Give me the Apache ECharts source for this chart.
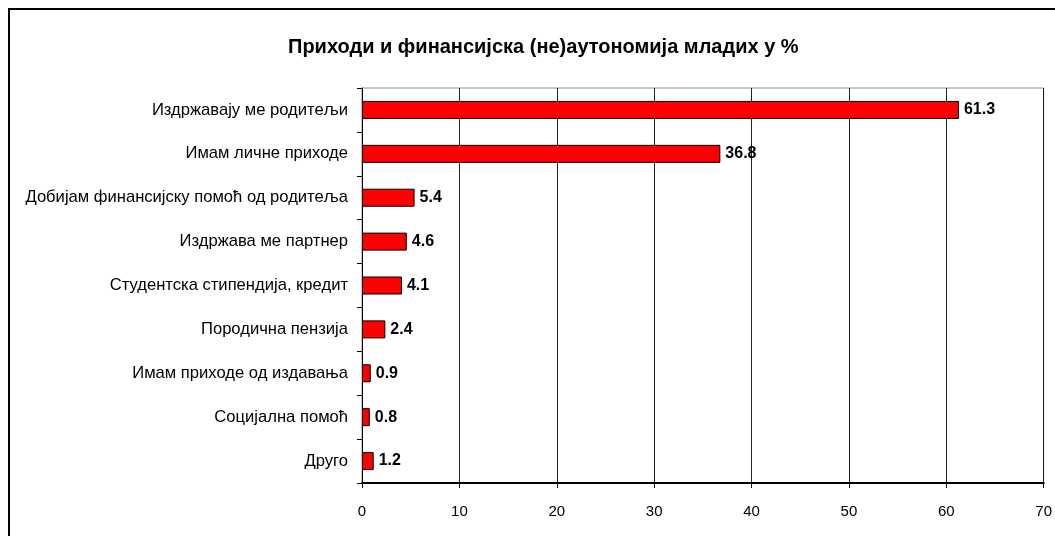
<!DOCTYPE html>
<html>
<head>
<meta charset="utf-8">
<script src="https://cdn.jsdelivr.net/npm/echarts@6/dist/echarts.min.js"></script>
<style>
  html, body { margin: 0; padding: 0; background: #fff; }
  #chart { width: 1055px; height: 536px; }
</style>
</head>
<body>
<div id="chart"></div>
<script>
// категорије одозго надоле
var categories = [
  'Издржавају ме родитељи',
  'Имам личне приходе',
  'Добијам финансијску помоћ од родитеља',
  'Издржава ме партнер',
  'Студентска стипендија, кредит',
  'Породична пензија',
  'Имам приходе од издавања',
  'Социјална помоћ',
  'Друго'
];
var values = [61.3, 36.8, 5.4, 4.6, 4.1, 2.4, 0.9, 0.8, 1.2];
var xTicks = [0, 10, 20, 30, 40, 50, 60, 70];

var font = '"Liberation Sans", Arial, sans-serif';
var myChart = echarts.init(document.getElementById('chart'));

myChart.setOption({
  animation: false,
  textStyle: { fontFamily: font },
  title: {
    text: 'Приходи и финансијска (не)аутономија младих у %',
    left: 283,
    top: 32,
    textStyle: { fontFamily: font, fontSize: 20, fontWeight: 'bold', color: '#000' }
  },
  graphic: [{
    // оквир графикона
    type: 'rect',
    shape: { x: 9, y: 9, width: 1100, height: 600 },
    style: { fill: 'none', stroke: '#000', lineWidth: 2 },
    silent: true
  }],
  grid: {
    left: 362, right: 8, top: 88, bottom: 53,
    show: true, borderColor: '#909090', borderWidth: 1
  },
  xAxis: {
    type: 'value',
    min: xTicks[0],
    max: xTicks[xTicks.length - 1],
    interval: 10,
    axisLine: { show: true, lineStyle: { color: '#000', width: 2 } },
    axisTick: { show: true, length: 5, lineStyle: { color: '#000' } },
    axisLabel: { color: '#000', fontSize: 15, margin: 21, fontFamily: font },
    splitLine: { show: true, lineStyle: { color: '#222', width: 1 } }
  },
  yAxis: {
    type: 'category',
    inverse: true,
    data: categories,
    axisLine: { show: true, lineStyle: { color: '#000', width: 1 } },
    axisTick: { show: true, length: 5, lineStyle: { color: '#000' } },
    axisLabel: { color: '#000', fontSize: 16.6, margin: 14, fontFamily: font }
  },
  series: [{
    type: 'bar',
    data: values,
    barWidth: 18,
    itemStyle: { color: '#ff0000', borderColor: '#000', borderWidth: 1 },
    label: {
      show: true,
      position: 'right',
      distance: 5,
      color: '#000',
      fontSize: 16,
      fontWeight: 'bold',
      fontFamily: font
    }
  }]
});
</script>
</body>
</html>
